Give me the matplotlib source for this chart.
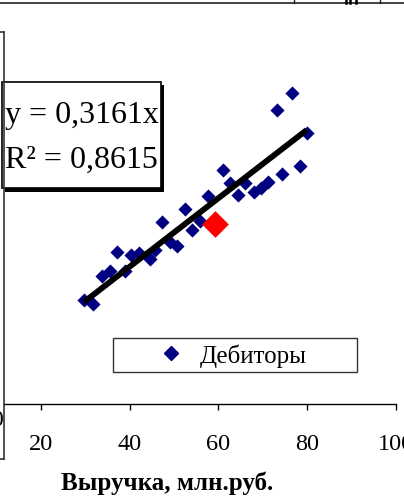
import numpy as np
import matplotlib.pyplot as plt
from matplotlib.patches import Rectangle
from matplotlib.lines import Line2D

# Revenue (x) vs receivables (y) for the debtors
revenue = [29.8, 31.8, 33.7, 35.6, 39.0, 37.1, 40.3, 42.1, 44.6, 45.7,
           47.2, 49.1, 50.7, 52.5, 54.0, 55.9, 57.7, 61.0, 62.6, 64.5,
           66.0, 68.0, 69.6, 71.2, 74.3, 78.4, 79.9, 73.1, 76.6]
debtors = [9.6, 9.2, 11.8, 12.3, 12.3, 14.0, 13.7, 13.9, 13.4, 14.2,
           16.8, 14.9, 14.6, 18.0, 16.0, 16.9, 19.2, 21.6, 20.4, 19.3,
           20.4, 19.5, 19.9, 20.5, 21.2, 21.9, 25.0, 27.1, 28.7]

# highlighted company
red_x = [59.2]
red_y = [16.6]

slope = 0.3161
r2 = 0.8615

xticks = [20, 40, 60, 80, 100]
series_name = 'Дебиторы'
x_title = 'Выручка, млн.руб.'

plt.rcParams['font.family'] = ['Liberation Serif', 'DejaVu Serif']

W, H = 404, 502
fig = plt.figure(figsize=(W / 100, H / 100), dpi=100)

# plot area runs past the left edge, x=0 sits at about -48 px
ax = fig.add_axes([-48.1 / W, 97 / H, 444.1 / W, 379.75 / H])
ax.set_xlim(0, 100)
ax.set_ylim(0, 35)
ax.patch.set_alpha(0)

ax.scatter(revenue, debtors, marker='D', s=52, color='#000080',
           linewidths=0, zorder=2)
ax.scatter(red_x, red_y, marker='D', s=185, color='#ff0000',
           linewidths=0, zorder=4)

# trendline through origin over the data range
xl = np.array([min(revenue), max(revenue)])
ax.plot(xl, slope * xl, color='black', lw=4.2, solid_capstyle='butt', zorder=3)

for side in ['left', 'top', 'right']:
    ax.spines[side].set_visible(False)
ax.spines['bottom'].set_bounds(11.7, 100)
ax.spines['bottom'].set_linewidth(1.0)
ax.set_yticks([])
ax.set_xticks(xticks)
ax.set_xticklabels([str(t) for t in xticks])
ax.tick_params(axis='x', direction='out', length=4, width=1,
               pad=17, labelsize=17.5)

fig.text(167 / W, (H - 490) / H, x_title, ha='center', va='baseline',
         fontsize=18, fontweight='bold')

## frame lines of the neighbouring objects
fig.add_artist(Line2D([4 / W, 4 / W], [1 - 33 / H, 1 - 460 / H],
                      color='#333333', lw=1.2))
fig.add_artist(Line2D([0, 4 / W], [1 - 33 / H, 1 - 33 / H], color='#333333', lw=1.2))
fig.add_artist(Line2D([0, 4 / W], [1 - 460 / H, 1 - 460 / H], color='#333333', lw=1.2))
fig.add_artist(Line2D([0, 1], [1 - 4 / H, 1 - 4 / H], color='#222222', lw=1.2))
for px in [294, 380]:
    fig.add_artist(Line2D([px / W, px / W], [1 - 4 / H, 1], color='#222222', lw=1))
for px in [345.5, 350, 355.5]:
    fig.add_artist(Line2D([px / W, px / W], [1 - 4 / H, 1], color='black', lw=1.8))
fig.text(2.5 / W, 1 - 420 / H, '0', ha='right', va='center', fontsize=17)

## equation box with shadow
fig.add_artist(Rectangle((5 / W, 1 - 193 / H), 159 / W, 107 / H,
                         transform=fig.transFigure, facecolor='black',
                         edgecolor='none'))
fig.add_artist(Rectangle((2 / W, 1 - 189 / H), 159 / W, 106 / H,
                         transform=fig.transFigure, facecolor='white',
                         edgecolor='black', lw=1.2))
fig.text(5 / W, 1 - 123 / H, f'y = {slope}x'.replace('.', ','),
         ha='left', va='baseline', fontsize=23)
fig.text(5 / W, 1 - 168 / H, f'R\u00b2 = {r2}'.replace('.', ','),
         ha='left', va='baseline', fontsize=23)

## legend
fig.add_artist(Rectangle((113 / W, 1 - 373 / H), 244 / W, 34 / H,
                         transform=fig.transFigure, facecolor='white',
                         edgecolor='#333333', lw=1.0))
h = Line2D([], [], marker='D', ls='none', color='#000080', markersize=7.2)
leg = fig.legend([h], [series_name], loc='center', frameon=False,
                 bbox_to_anchor=(233 / W, 1 - 356 / H), fontsize=18,
                 handlelength=1.0, handletextpad=0.65, borderpad=0)
leg.set_zorder(5)

fig.savefig('out.png', dpi=100)
